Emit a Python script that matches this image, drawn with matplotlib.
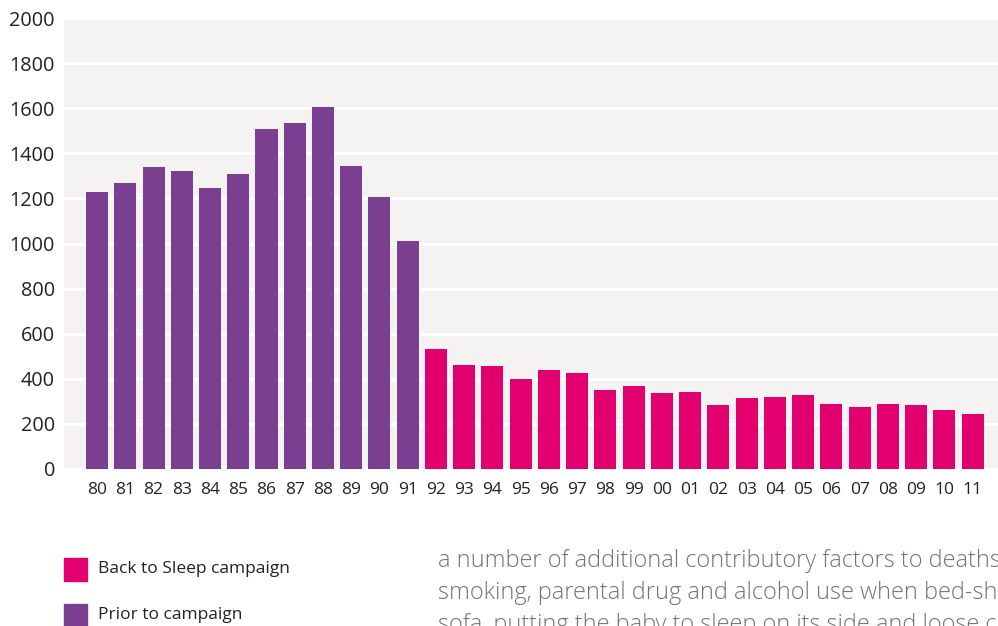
import matplotlib
matplotlib.use("Agg")
import matplotlib.pyplot as plt
from matplotlib.patches import Rectangle

plt.rcParams["font.family"] = ["Open Sans", "DejaVu Sans"]

PURPLE = "#7b3f92"
PINK = "#e2006e"
BG = "#f4f3f1"

years = ["80", "81", "82", "83", "84", "85", "86", "87", "88", "89", "90", "91",
         "92", "93", "94", "95", "96", "97", "98", "99", "00", "01", "02", "03",
         "04", "05", "06", "07", "08", "09", "10", "11"]
deaths = [1228, 1268, 1339, 1321, 1246, 1308, 1508, 1534, 1605, 1344, 1206, 1011,
          532, 461, 458, 399, 439, 426, 350, 368, 337, 341, 284, 315,
          319, 328, 288, 275, 288, 284, 262, 244]
n_prior = 12  # 1980-1991 before the campaign
yticks = list(range(0, 2001, 200))
legend_labels = ["Back to Sleep campaign", "Prior to campaign"]
body_lines = ["a number of additional contributory factors to deaths",
              "smoking, parental drug and alcohol use when bed-sh",
              "sofa, putting the baby to sleep on its side and loose c"]

fig = plt.figure(figsize=(9.98, 6.26), dpi=100)
ax = fig.add_axes([64 / 998, 157 / 626, 934 / 998, 451 / 626])
ax.set_facecolor(BG)

x = list(range(len(years)))
cols = [PURPLE if i < n_prior else PINK for i in x]
ax.bar(x, deaths, width=0.78, color=cols, zorder=3)

ax.set_ylim(0, 2000)
ax.set_xlim(-1.17, 31.9)
ax.set_yticks(yticks)
ax.set_yticklabels([str(v) for v in yticks], fontsize=14.3, color="#222222")
ax.set_xticks(x)
ax.set_xticklabels(years, fontsize=12.5, color="#222222")
ax.tick_params(axis="both", length=0)
ax.tick_params(axis="y", pad=6.5)
ax.tick_params(axis="x", pad=9)
ax.grid(axis="y", color="white", lw=2.2, zorder=1)
for s in ax.spines.values():
    s.set_visible(False)

# legend squares at bottom left
for j, (lab, c) in enumerate(zip(legend_labels, [PINK, PURPLE])):
    yc = 1 - (569 + 46 * j) / 626
    fig.patches.append(Rectangle((64 / 998, yc - 11.5 / 626), 23 / 998, 23 / 626,
                                 transform=fig.transFigure, color=c))
    fig.text(98 / 998, yc, lab, fontsize=12.5, color="#222222", va="center", ha="left")

# running body text (cut by the page edge)
for k, line in enumerate(body_lines):
    fig.text(438 / 998, 1 - (561 + 32 * k) / 626, line, fontsize=16.9,
             fontweight="light", color="#737373", va="center", ha="left")

fig.savefig("out.png", dpi=100)
